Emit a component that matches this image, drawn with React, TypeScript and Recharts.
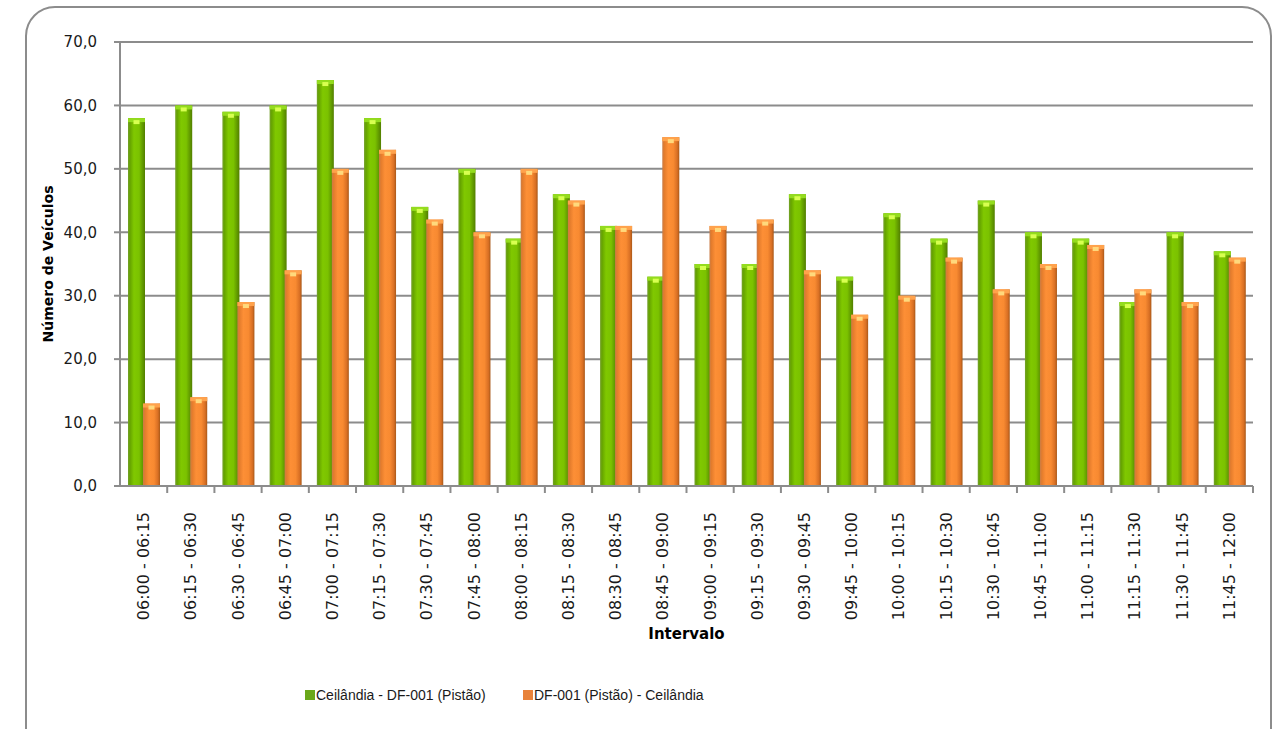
import { BarChart, Bar, XAxis, YAxis, CartesianGrid, Legend } from "recharts";

const intervals = [
  "06:00 - 06:15", "06:15 - 06:30", "06:30 - 06:45", "06:45 - 07:00",
  "07:00 - 07:15", "07:15 - 07:30", "07:30 - 07:45", "07:45 - 08:00",
  "08:00 - 08:15", "08:15 - 08:30", "08:30 - 08:45", "08:45 - 09:00",
  "09:00 - 09:15", "09:15 - 09:30", "09:30 - 09:45", "09:45 - 10:00",
  "10:00 - 10:15", "10:15 - 10:30", "10:30 - 10:45", "10:45 - 11:00",
  "11:00 - 11:15", "11:15 - 11:30", "11:30 - 11:45", "11:45 - 12:00",
];
const ceilandiaPistao = [58, 60, 59, 60, 64, 58, 44, 50, 39, 46, 41, 33, 35, 35, 46, 33, 43, 39, 45, 40, 39, 29, 40, 37];
const pistaoCeilandia = [13, 14, 29, 34, 50, 53, 42, 40, 50, 45, 41, 55, 41, 42, 34, 27, 30, 36, 31, 35, 38, 31, 29, 36];
const yTicks = [0, 10, 20, 30, 40, 50, 60, 70];

const SERIES_A = "Ceilândia - DF-001 (Pistão)";
const SERIES_B = "DF-001 (Pistão) - Ceilândia";

const data = intervals.map((name, i) => ({
  name,
  [SERIES_A]: ceilandiaPistao[i],
  [SERIES_B]: pistaoCeilandia[i],
}));

const W = 1278;
const H = 729;
const LEFT = 120;
const RIGHT = 25;
const band = (W - LEFT - RIGHT) / intervals.length;
const FONT = "'DejaVu Sans', sans-serif";
const LEGEND_FONT = "'Liberation Sans', Arial, sans-serif";

const fmt = (v: number) => v.toFixed(1).replace(".", ",");

function Cylinder(props: any) {
  const { x, y, width, height, cap, notch, gid } = props;
  if (!height || height <= 0) return null;
  return (
    <g>
      <rect x={x} y={y} width={width} height={height} fill={`url(#${gid})`} />
      <rect x={x} y={y} width={width} height={4} fill={cap} />
      <rect x={x + width / 2 - 3} y={y + 2} width={6} height={4} fill={notch} />
    </g>
  );
}

function XTick(props: any) {
  const { x, y, payload } = props;
  return (
    <g>
      <line x1={x + band / 2} y1={y} x2={x + band / 2} y2={y + 7} stroke="#8c8c8c" strokeWidth={2} />
      <text
        transform={`translate(${x},${y + 26}) rotate(-90)`}
        textAnchor="end"
        dominantBaseline="central"
        fontSize={16}
        fontFamily={FONT}
        fill="#1a1a1a"
      >
        {payload.value}
      </text>
    </g>
  );
}

function LegendBox() {
  const item = (color: string, label: string, w: number) => (
    <div style={{ display: "flex", alignItems: "center", width: w }}>
      <span style={{ display: "inline-block", width: 10, height: 10, background: color, marginRight: 1 }} />
      <span>{label}</span>
    </div>
  );
  return (
    <div
      style={{
        height: 60,
        display: "flex",
        justifyContent: "flex-start",
        paddingLeft: 305,
        position: "relative",
        top: -4,
        boxSizing: "border-box",
        fontFamily: LEGEND_FONT,
        fontSize: 14,
        color: "#1a1a1a",
        lineHeight: "16px",
      }}
    >
      {item("#6aa81a", SERIES_A, 218)}
      {item("#e8823a", SERIES_B, 200)}
    </div>
  );
}

export default function App() {
  return (
    <div style={{ position: "absolute", left: 0, top: 0, width: W, height: H, overflow: "hidden", background: "#fff" }}>
      <div
        style={{
          position: "absolute",
          left: 25,
          top: 6,
          width: 1243,
          height: 760,
          border: "2px solid #8c8c8c",
          borderRadius: 30,
        }}
      />
      <div style={{ position: "absolute", left: 0, top: 0 }}>
        <BarChart
          width={W}
          height={H}
          data={data}
          margin={{ top: 42, right: RIGHT, left: 0, bottom: 0 }}
          barSize={17}
          barGap={-2}
        >
          <defs>
            <linearGradient id="gG" x1="0" y1="0" x2="1" y2="0">
              <stop offset="0%" stopColor="#74a02c" />
              <stop offset="12%" stopColor="#66a400" />
              <stop offset="35%" stopColor="#80c800" />
              <stop offset="65%" stopColor="#7bc200" />
              <stop offset="88%" stopColor="#5f9600" />
              <stop offset="100%" stopColor="#527e00" />
            </linearGradient>
            <linearGradient id="gO" x1="0" y1="0" x2="1" y2="0">
              <stop offset="0%" stopColor="#c97c46" />
              <stop offset="12%" stopColor="#e47c2c" />
              <stop offset="35%" stopColor="#fd8f36" />
              <stop offset="65%" stopColor="#f88a31" />
              <stop offset="88%" stopColor="#d86f24" />
              <stop offset="100%" stopColor="#a85818" />
            </linearGradient>
          </defs>
          <CartesianGrid vertical={false} stroke="#8c8c8c" strokeWidth={2} />
          <XAxis
            dataKey="name"
            interval={0}
            height={183}
            tickSize={0}
            tickMargin={0}
            tickLine={false}
            tick={<XTick />}
            axisLine={{ stroke: "#8c8c8c", strokeWidth: 2 }}
            label={{
              value: "Intervalo",
              position: "insideBottom",
              offset: 30,
              style: { fontFamily: FONT, fontSize: 15, fontWeight: "bold", fill: "#000" },
            }}
          />
          <YAxis
            width={LEFT}
            domain={[0, 70]}
            ticks={yTicks}
            tickFormatter={fmt}
            tickSize={6}
            tickMargin={17}
            tick={{ fontFamily: FONT, fontSize: 15, fill: "#1a1a1a" }}
            tickLine={{ stroke: "#8c8c8c", strokeWidth: 2 }}
            axisLine={{ stroke: "#8c8c8c", strokeWidth: 2 }}
            label={(p: any) => {
              const vb = p.viewBox;
              const cy = vb.y + vb.height / 2;
              return (
                <text
                  transform={`translate(48,${cy}) rotate(-90)`}
                  textAnchor="middle"
                  dominantBaseline="central"
                  fontFamily={FONT}
                  fontSize={14}
                  fontWeight="bold"
                  fill="#000"
                >
                  Número de Veículos
                </text>
              );
            }}
          />
          <Legend verticalAlign="bottom" content={<LegendBox />} />
          <Bar
            dataKey={SERIES_A}
            fill="#7bc200"
            isAnimationActive={false}
            shape={(p: any) => <Cylinder {...p} gid="gG" cap="#94dc1e" notch="#d8ff50" />}
          />
          <Bar
            dataKey={SERIES_B}
            fill="#f88a31"
            isAnimationActive={false}
            shape={(p: any) => <Cylinder {...p} gid="gO" cap="#ffa24c" notch="#ffd97c" />}
          />
        </BarChart>
      </div>
    </div>
  );
}
